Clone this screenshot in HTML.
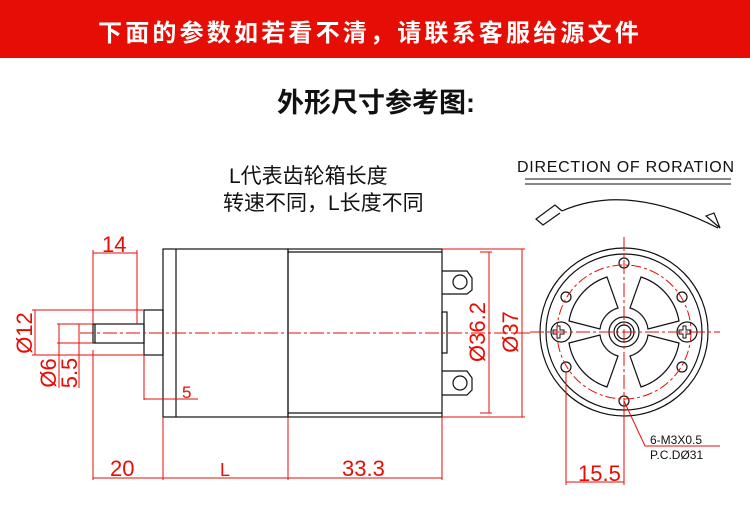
<!DOCTYPE html>
<html><head><meta charset="utf-8"><style>
html,body{margin:0;padding:0;background:#fff;width:750px;height:517px;overflow:hidden}
svg{display:block}
</style></head><body>
<svg width="750" height="517" viewBox="0 0 750 517" xmlns="http://www.w3.org/2000/svg">
<rect x="0" y="0" width="750" height="58" fill="#e60e04"/>
<text x="370" y="41" text-anchor="middle" fill="#fff" font-family="'Liberation Sans','Noto Sans CJK SC',sans-serif" font-size="24" letter-spacing="3.2" font-weight="bold">下面的参数如若看不清，请联系客服给源文件</text>
<text x="376" y="112" text-anchor="middle" fill="#111" font-family="'Liberation Sans','Noto Sans CJK SC',sans-serif" font-size="27" font-weight="bold">外形尺寸参考图:</text>
<g font-family="'Liberation Sans','Noto Sans CJK SC',sans-serif" font-size="21" fill="#111">
<text x="229" y="183">L代表齿轮箱长度</text>
<text x="223" y="210">转速不同，L长度不同</text>
</g>
<text x="517" y="172" font-family="'Liberation Sans',sans-serif" font-size="16" fill="#111" textLength="217">DIRECTION OF RORATION</text>
<line x1="525" y1="179" x2="731" y2="179" stroke="#111" stroke-width="1"/>
<line x1="525" y1="184" x2="731" y2="184" stroke="#111" stroke-width="1"/>
<g fill="none" stroke="#111" stroke-width="1.2">
<path d="M562 211 Q628 182 718 228"/>
<path d="M562 211 L555 205 L536 219 L543 225 L560 213"/>
<path d="M706 216 L714 213 L720 228 Z"/>
<rect x="163" y="249" width="125" height="168"/>
<line x1="176" y1="249" x2="176" y2="417"/>
<rect x="288" y="249" width="154" height="168"/>
<line x1="288" y1="252" x2="442" y2="252"/>
<line x1="288" y1="413" x2="442" y2="413"/>
<rect x="144" y="310" width="19" height="45"/>
<rect x="93" y="324" width="51" height="19"/>
<line x1="95" y1="324" x2="95" y2="343"/>
<path d="M442 271 L467 271 L472 278 L472 290 L467 294 L442 294"/>
<circle cx="460" cy="282" r="7"/>
<path d="M442 371 L467 371 L472 378 L472 390 L467 395 L442 395"/>
<circle cx="460" cy="383" r="7"/>
<rect x="442" y="312" width="5" height="41"/>
<circle cx="624" cy="332" r="84"/>
<circle cx="624" cy="332" r="78"/>
<circle cx="624" cy="332" r="15"/>
<circle cx="624" cy="332" r="10"/>
<circle cx="624" cy="332" r="7"/>
<path d="M607 277 A56 56 0 0 0 569 321 L600 329 A25 25 0 0 1 618 308 Z"/>
<path d="M641 277 A56 56 0 0 1 679 321 L648 329 A25 25 0 0 0 630 308 Z"/>
<path d="M607 387 A56 56 0 0 1 569 343 L600 335 A25 25 0 0 0 618 356 Z"/>
<path d="M641 387 A56 56 0 0 0 679 343 L648 335 A25 25 0 0 1 630 356 Z"/>
<circle cx="561" cy="332" r="10"/>
<circle cx="687" cy="332" r="10"/>
<path d="M557 326 h3 v4 h4 v4 h-4 v4 h-3 v-4 h-4 v-4 h4 z" stroke-width="1"/>
<path d="M683 326 h3 v4 h4 v4 h-4 v4 h-3 v-4 h-4 v-4 h4 z" stroke-width="1"/>
<circle cx="624" cy="263" r="5"/>
<circle cx="624" cy="401" r="5"/>
<circle cx="566" cy="297" r="5"/>
<circle cx="682" cy="297" r="5"/>
<circle cx="566" cy="367" r="5"/>
<circle cx="682" cy="367" r="5"/>
</g>
<g fill="none" stroke="#e60e04" stroke-width="1">
<line x1="80" y1="333" x2="530" y2="333" stroke-dasharray="14,3,3,3"/>
<line x1="530" y1="332" x2="720" y2="332" stroke-dasharray="14,3,3,3"/>
<line x1="624" y1="237" x2="624" y2="420" stroke-dasharray="14,3,3,3"/>
<circle cx="624" cy="332" r="67" stroke-dasharray="10,3,3,3"/>
<line x1="93" y1="250" x2="93" y2="324"/><line x1="137" y1="250" x2="137" y2="324"/>
<line x1="93" y1="253" x2="137" y2="253"/>
<line x1="32" y1="310" x2="144" y2="310"/><line x1="32" y1="355" x2="144" y2="355"/>
<line x1="35" y1="310" x2="35" y2="355"/>
<line x1="57" y1="324" x2="93" y2="324"/><line x1="57" y1="343" x2="93" y2="343"/>
<line x1="59" y1="324" x2="59" y2="388"/><line x1="79" y1="324" x2="79" y2="388"/>
<line x1="144" y1="355" x2="144" y2="400"/>
<line x1="144" y1="399" x2="198" y2="399"/>
<line x1="93" y1="350" x2="93" y2="480"/>
<line x1="163" y1="417" x2="163" y2="480"/>
<line x1="288" y1="417" x2="288" y2="480"/>
<line x1="442" y1="417" x2="442" y2="480"/>
<line x1="93" y1="478" x2="442" y2="478"/>
<line x1="442" y1="249" x2="525" y2="249"/><line x1="442" y1="417" x2="525" y2="417"/>
<line x1="480" y1="252" x2="492" y2="252"/><line x1="480" y1="413" x2="492" y2="413"/>
<line x1="489" y1="252" x2="489" y2="413"/>
<line x1="522" y1="249" x2="522" y2="417"/>
<line x1="566" y1="372" x2="566" y2="485"/>
<line x1="624" y1="406" x2="624" y2="485"/>
<line x1="566" y1="482" x2="624" y2="482"/>
<path d="M624 401 L645 446 L720 446"/>
</g>
<g fill="#e60e04" font-family="'Liberation Sans',sans-serif" font-size="22">
<text x="102" y="252">14</text>
<text x="110" y="476">20</text>
<text x="220" y="476" font-size="18">L</text>
<text x="342" y="476">33.3</text>
<text x="578" y="481">15.5</text>
<text x="182" y="398" font-size="17">5</text>
<text transform="translate(32,333) rotate(-90)" text-anchor="middle">Ø12</text>
<text transform="translate(56,373) rotate(-90)" text-anchor="middle">Ø6</text>
<text transform="translate(77,373) rotate(-90)" text-anchor="middle">5.5</text>
<text transform="translate(485,332) rotate(-90)" text-anchor="middle">Ø36.2</text>
<text transform="translate(518,332) rotate(-90)" text-anchor="middle">Ø37</text>
</g>
<g fill="#111" font-family="'Liberation Sans',sans-serif" font-size="12">
<text x="650" y="444">6-M3X0.5</text>
<text x="650" y="459">P.C.DØ31</text>
</g>
</svg>
</body></html>
